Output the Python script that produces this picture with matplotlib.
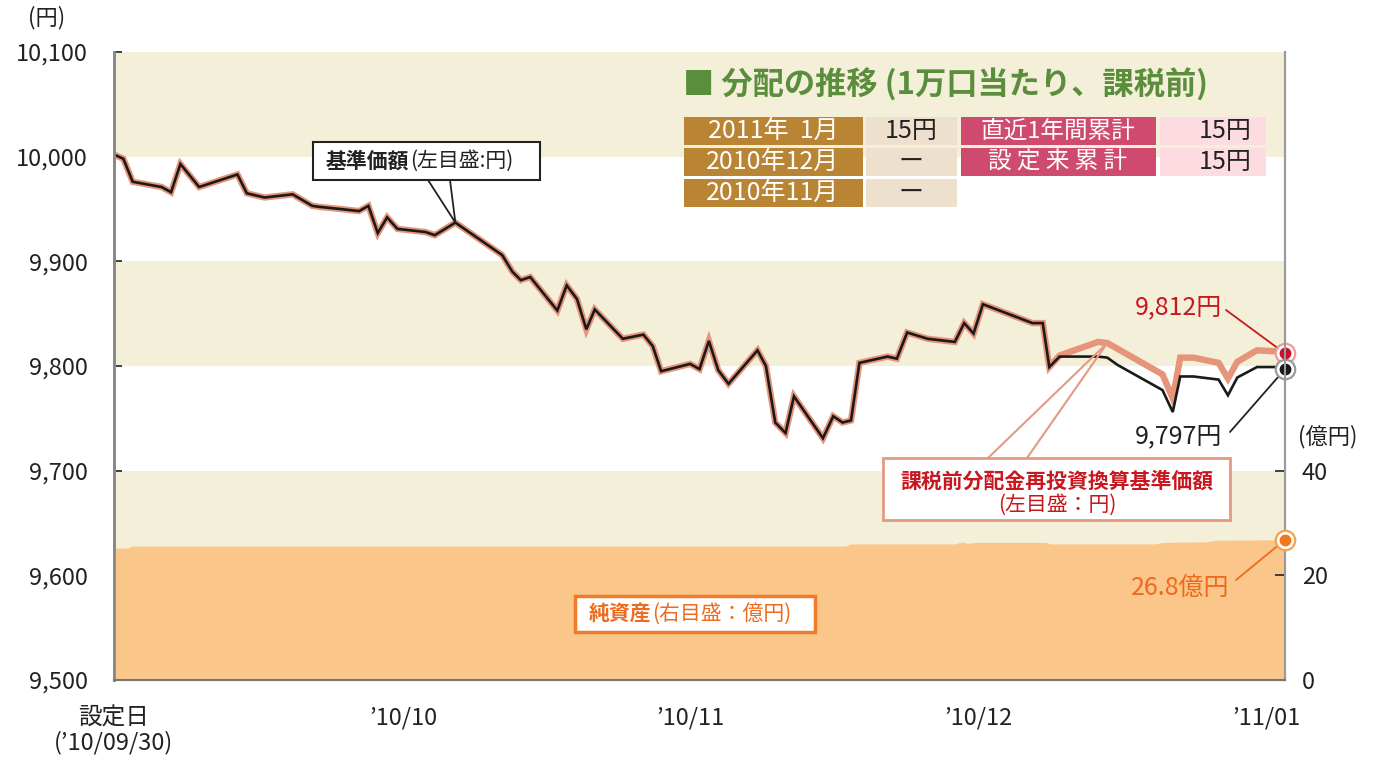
import matplotlib
matplotlib.use('Agg')
import matplotlib.pyplot as plt
from matplotlib.patches import Rectangle

plt.rcParams['font.family'] = ['Noto Sans CJK JP', 'DejaVu Sans']

# ---------------- data ----------------
nav_days = [0, 1, 2, 5.1, 6.1, 7.1, 9.1, 13.2, 14.2, 16.1,
            19.1, 21.2, 22, 24.2, 26.2, 27.2, 28.2, 29.2, 30.3, 33.3,
            34.3, 36.5, 41.5, 42.6, 43.5, 44.5, 47.4, 48.4, 49.5, 50.5,
            51.4, 54.4, 56.6, 57.6, 58.5, 61.6, 62.6, 63.6, 64.6, 65.7,
            68.8, 69.7, 70.7, 71.8, 72.7, 75.8, 76.9, 77.9, 78.8, 79.7,
            82.7, 83.7, 84.8, 87.0, 89.9, 90.9, 91.9, 92.9, 98.2, 99.3,
            100.0, 101.1, 105.2, 106.2, 107.3, 112.1, 113.2, 114.0, 115.4, 118.1,
            119.1, 120.1, 122.2, 124.2, 125.2]
nav = [10002, 9998, 9976, 9971, 9966, 9993, 9971, 9983, 9965, 9961,
       9964, 9953, 9952, 9950, 9948, 9953, 9927, 9942, 9931, 9928,
       9925, 9937, 9906, 9890, 9882, 9885, 9853, 9877, 9864, 9835,
       9854, 9826, 9830, 9819, 9795, 9802, 9797, 9824, 9796, 9783,
       9815, 9800, 9746, 9736, 9771, 9731, 9752, 9746, 9748, 9803,
       9809, 9807, 9832, 9826, 9823, 9841, 9831, 9859, 9841, 9841,
       9799, 9809, 9809, 9808, 9801, 9777, 9756, 9790, 9790, 9787,
       9772, 9789, 9799, 9799, 9797]

reinv_days = [100.0, 101.1, 105.2, 106.2, 112.1, 113.2, 114.0, 115.4,
              118.1, 119.1, 120.1, 122.2, 124.2, 125.2]
reinv = [9799, 9810, 9823, 9822, 9792, 9769, 9808, 9808,
         9803, 9788, 9804, 9815, 9814, 9812]

na_days = [0, 1.5, 1.9, 78.2, 78.7, 89.9, 90.7, 91.3, 92.1, 99.6,
           100.1, 111.3, 112.1, 116.7, 117.8, 125.2]
net_assets = [25.2, 25.2, 25.6, 25.6, 26.0, 26.0, 26.4, 26.1, 26.3, 26.3,
              26.0, 26.0, 26.3, 26.4, 26.7, 26.8]

tick_days = [0, 30.9, 61.6, 92.4, 123.2]
tick_labels = ['設定日\n(’10/09/30)', '’10/10', '’10/11', '’10/12', '’11/01']
left_ticks = [9500, 9600, 9700, 9800, 9900, 10000, 10100]
right_ticks = [0, 20, 40]

dist_months = ['2011年  1月', '2010年12月', '2010年11月']
dist_values = ['15円', 'ー', 'ー']
cum_labels = ['直近1年間累計', '設 定 来 累 計']
cum_values = ['15円', '15円']

# ---------------- colors ----------------
BEIGE = '#F4EFD9'
AREA = '#FAC68A'
SALMON = '#E6947A'
RED = '#C8171E'
ORANGE = '#EE6A1E'
GREEN = '#5A8E3C'

W, H = 1374, 758
fig = plt.figure(figsize=(W / 100, H / 100), dpi=100)
ax = fig.add_axes([114 / W, 1 - 680 / H, (1285 - 114) / W, (680 - 52) / H])
ax2 = ax.twinx()

# bands
for lo in (10000, 9800, 9600, 9500):
    ax.axhspan(lo, lo + 100, color=BEIGE, lw=0, zorder=0)

# lines
full_x = nav_days[:60] + reinv_days
full_y = nav[:60] + reinv
ax.plot(full_x, full_y, color=SALMON, lw=4.6, solid_joinstyle='miter', zorder=3)
ax.plot(nav_days, nav, color='#1a1a1a', lw=1.9, solid_joinstyle='miter', zorder=4)

ax.set_xlim(0, 125.2)
ax.set_ylim(9500, 10100)
ax.set_yticks(left_ticks)
ax.set_yticklabels([f'{v:,}' for v in left_ticks], fontsize=17, color='#222222')
ax.set_xticks(tick_days)
ax.set_xticklabels(tick_labels, fontsize=17, color='#222222', linespacing=1.05)
ax.tick_params(axis='y', direction='in', length=6, width=1.2, pad=19, color='#222')
ax.tick_params(axis='x', direction='in', length=15, width=1.0, pad=19, color='#222')

# net assets
ax2.fill_between(na_days, 0, net_assets, color=AREA, lw=0, zorder=1)
ax2.set_ylim(0, 120)
ax2.set_yticks(right_ticks)
ax2.set_yticklabels([str(v) for v in right_ticks], fontsize=17, color='#222222')
ax2.tick_params(axis='y', direction='in', length=7, width=1.2, pad=12, color='#222')

for a in (ax, ax2):
    a.spines['top'].set_visible(False)
    a.spines['left'].set_color('#8a8a8a')
    a.spines['left'].set_linewidth(2)
    a.spines['right'].set_color('#9a9a9a')
    a.spines['right'].set_linewidth(1.5)
    a.spines['bottom'].set_color('#777777')
    a.spines['bottom'].set_linewidth(1.5)

# end markers
ax.plot(reinv_days[-1], reinv[-1], 'o', ms=14, mfc='white', mec='#EE9A9A', mew=1.6, clip_on=False, zorder=6)
ax.plot(reinv_days[-1], reinv[-1], 'o', ms=7.5, color='#C8102E', clip_on=False, zorder=7)
ax.plot(nav_days[-1], nav[-1], 'o', ms=14, mfc='white', mec='#9a9a9a', mew=1.6, clip_on=False, zorder=6)
ax.plot(nav_days[-1], nav[-1], 'o', ms=7.5, color='#1a1a1a', clip_on=False, zorder=7)
ax2.plot(na_days[-1], net_assets[-1], 'o', ms=14, mfc='white', mec='#F5A24B', mew=1.6, clip_on=False, zorder=6)
ax2.plot(na_days[-1], net_assets[-1], 'o', ms=7.5, color='#F07820', clip_on=False, zorder=7)


def fp(px, py):
    return (px, H - py)


def rect(x0, y0, x1, y1, fc, ec='none', lw=0):
    r = Rectangle((x0 / W, 1 - y1 / H), (x1 - x0) / W, (y1 - y0) / H,
                  transform=fig.transFigure, facecolor=fc, edgecolor=ec, lw=lw, zorder=2)
    fig.add_artist(r)


def ftext(px, py, s, **kw):
    fig.text(px / W, 1 - py / H, s, va='center', **kw)


# axis unit labels
ftext(47, 18, '(円)', ha='center', fontsize=16, color='#222')
ftext(1328, 437, '(億円)', ha='center', fontsize=16, color='#222')

# title & table
ftext(683, 85, '■ 分配の推移 (1万口当たり、課税前)', ha='left', fontsize=22.5,
      fontweight='bold', color=GREEN)
rows = [(117, 145), (148, 176), (179, 207)]
for i, (y0, y1) in enumerate(rows):
    rect(684, y0, 863, y1, '#B98535')
    ftext(773, (y0 + y1) / 2, dist_months[i], ha='center', fontsize=18, color='white')
    rect(866, y0, 957, y1, '#EDE0CC')
    ftext(911, (y0 + y1) / 2, dist_values[i], ha='center', fontsize=18, color='#222')
for i, (y0, y1) in enumerate(rows[:2]):
    rect(961, y0, 1156, y1, '#CE4B6F')
    ftext(1058, (y0 + y1) / 2, cum_labels[i], ha='center', fontsize=17, color='white')
    rect(1160, y0, 1266, y1, '#FCDCE0')
    ftext(1252, (y0 + y1) / 2, cum_values[i], ha='right', fontsize=18, color='#222')

# 基準価額 box
rect(313, 142, 540, 180, 'white', ec='#222', lw=1.5)
ftext(326, 161, '基準価額', ha='left', fontsize=15, fontweight='bold', color='#222')
ftext(410, 161, '(左目盛:円)', ha='left', fontsize=15, color='#222')
for sx in (428, 450):
    ax.annotate('', xy=(nav_days[21], nav[21]), xytext=fp(sx, 180), textcoords='figure pixels',
                arrowprops=dict(arrowstyle='-', color='#222', lw=1.3, shrinkA=0, shrinkB=0), zorder=5)

# reinvest box
rect(883, 458, 1230, 520, 'white', ec='#E39A85', lw=2)
ftext(1057, 481, '課税前分配金再投資換算基準価額', ha='center', fontsize=15, fontweight='bold', color=RED)
ftext(1057, 505, '(左目盛：円)', ha='center', fontsize=15, color=RED)
for sx in (988, 1027):
    ax.annotate('', xy=(reinv_days[3], reinv[3]), xytext=fp(sx, 458), textcoords='figure pixels',
                arrowprops=dict(arrowstyle='-', color='#E39A85', lw=1.5, shrinkA=0, shrinkB=0), zorder=5)

# end value labels
ftext(1222, 307, '9,812円', ha='right', fontsize=18, color=RED)
ax.annotate('', xy=(reinv_days[-1], reinv[-1]), xytext=fp(1226, 310), textcoords='figure pixels',
            arrowprops=dict(arrowstyle='-', color=RED, lw=1.3, shrinkA=0, shrinkB=7), zorder=5)
ftext(1222, 436, '9,797円', ha='right', fontsize=18, color='#222')
ax.annotate('', xy=(nav_days[-1], nav[-1]), xytext=fp(1230, 432), textcoords='figure pixels',
            arrowprops=dict(arrowstyle='-', color='#222', lw=1.3, shrinkA=0, shrinkB=7), zorder=5)
ftext(1229, 588, '26.8億円', ha='right', fontsize=18, color=ORANGE)
ax2.annotate('', xy=(na_days[-1], net_assets[-1]), xytext=fp(1236, 580), textcoords='figure pixels',
             arrowprops=dict(arrowstyle='-', color=ORANGE, lw=1.3, shrinkA=0, shrinkB=7), zorder=5)

# net assets box
rect(575, 596, 815, 632, 'white', ec='#F07A2A', lw=2.5)
ftext(589, 614, '純資産', ha='left', fontsize=15, fontweight='bold', color=ORANGE)
ftext(652, 614, '(右目盛：億円)', ha='left', fontsize=15, color=ORANGE)

fig.savefig('out.png', dpi=100)
